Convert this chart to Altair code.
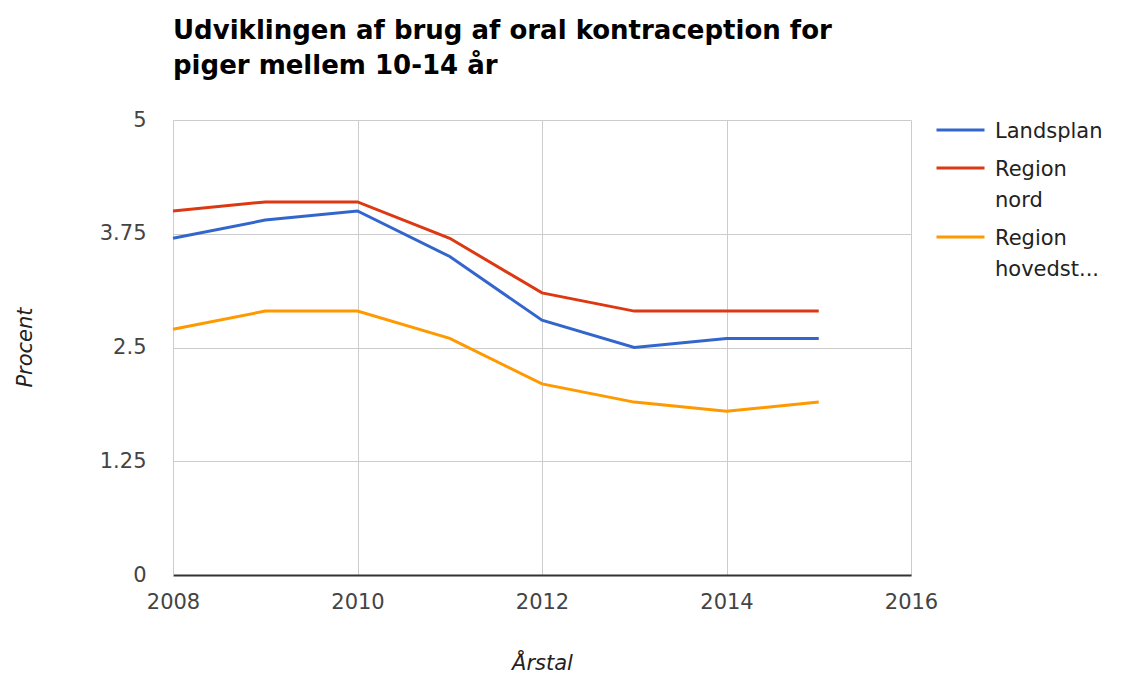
import altair as alt
import pandas as pd

# Share of girls aged 10-14 using oral contraception (percent)
years = [2008, 2009, 2010, 2011, 2012, 2013, 2014, 2015]
landsplan = [3.7, 3.9, 4.0, 3.5, 2.8, 2.5, 2.6, 2.6]
region_nord = [4.0, 4.1, 4.1, 3.7, 3.1, 2.9, 2.9, 2.9]
region_hovedstaden = [2.7, 2.9, 2.9, 2.6, 2.1, 1.9, 1.8, 1.9]

series_names = ["Landsplan", "Region nord", "Region hovedstaden"]
series_colors = ["#3366cc", "#dc3912", "#ff9900"]

x_ticks = [2008, 2010, 2012, 2014, 2016]
y_ticks = [0, 1.25, 2.5, 3.75, 5]

rows = []
for name, vals in zip(series_names, [landsplan, region_nord, region_hovedstaden]):
    for yr, v in zip(years, vals):
        rows.append({"year": yr, "value": v, "series": name})
df = pd.DataFrame(rows)

FONT = "DejaVu Sans"

# Long series names wrap onto two lines in the legend
legend_label = (
    "datum.label == 'Region nord' ? ['Region', 'nord'] : "
    "datum.label == 'Region hovedstaden' ? ['Region', 'hovedst...'] : datum.label"
)

chart = (
    alt.Chart(df)
    .mark_line(strokeWidth=3)
    .encode(
        x=alt.X(
            "year:Q",
            scale=alt.Scale(domain=[2008, 2016], nice=False, zero=False),
            axis=alt.Axis(
                values=x_ticks,
                labelExpr="datum.value + ''",
                labelFlush=False,
                title="Årstal",
                titleFontStyle="italic",
                titleFontWeight="normal",
                titleFontSize=21,
                titleColor="#222222",
                titleX=369,
                titleY=88,
                titleBaseline="middle",
                labelFontSize=21,
                labelColor="#444444",
                labelPadding=16,
                ticks=False,
                domainColor="#333333",
                domainWidth=2,
                gridColor="#cccccc",
                gridWidth=1,
            ),
        ),
        y=alt.Y(
            "value:Q",
            scale=alt.Scale(domain=[0, 5], nice=False),
            axis=alt.Axis(
                values=y_ticks,
                labelExpr="datum.value + ''",
                title="Procent",
                titleFontStyle="italic",
                titleFontWeight="normal",
                titleFontSize=21,
                titleColor="#222222",
                titleAngle=270,
                titleX=-148,
                titleY=227,
                titleAlign="center",
                titleBaseline="middle",
                labelFontSize=21,
                labelColor="#444444",
                labelPadding=27,
                ticks=False,
                domainColor="#cccccc",
                domainWidth=1,
                gridColor="#cccccc",
                gridWidth=1,
            ),
        ),
        color=alt.Color(
            "series:N",
            scale=alt.Scale(domain=series_names, range=series_colors),
            legend=alt.Legend(
                title=None,
                orient="none",
                legendX=761,
                legendY=-10,
                symbolType="M-1,1.2L5,1.2",
                symbolSize=256,
                symbolStrokeWidth=3,
                labelFontSize=21,
                labelColor="#222222",
                labelFont=FONT,
                labelBaseline="top",
                labelExpr=legend_label,
                labelOffset=40,
                labelLimit=200,
                rowPadding=6,
                padding=0,
            ),
        ),
    )
    .properties(
        width=738,
        height=455,
        title=alt.Title(
            ["Udviklingen af brug af oral kontraception for", "piger mellem 10-14 år"],
            anchor="start",
            frame="group",
            fontSize=26,
            fontWeight="bold",
            font=FONT,
            color="#000000",
            lineHeight=35,
            offset=30,
        ),
        autosize="none",
        padding={"left": 173, "top": 120, "right": 212, "bottom": 101},
    )
    .configure(
        font=FONT,
        background="white",
        style={"guide-label": {"lineHeight": 31}},
    )
    .configure_view(stroke=None)
)

chart.save("out.html", embed_options={"renderer": "svg", "actions": False})
